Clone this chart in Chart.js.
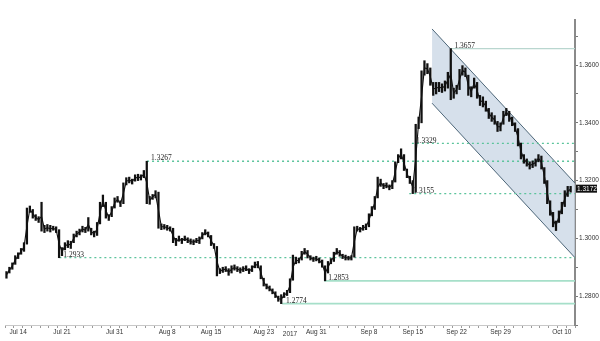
<!DOCTYPE html>
<html>
<head>
<meta charset="utf-8">
<script src="https://cdn.jsdelivr.net/npm/chart.js@4/dist/chart.umd.min.js"></script>
<style>
  html, body { margin: 0; padding: 0; background: #fff; }
  #wrap { width: 600px; height: 341px; }
</style>
</head>
<body>
<div id="wrap"><canvas id="fx-chart"></canvas></div>
<script>
// price bars, three per trading day (day 0 = Jul 13)
const lows = [
  1.2862,1.2880,1.2893,1.2910,1.2930,1.2945,1.2955,1.2980,1.3090,1.3070,
  1.3062,1.3055,1.3025,1.3020,1.3025,1.3022,1.3028,1.3020,1.2933,1.2940,
  1.2960,1.2968,1.2965,1.2985,1.3005,1.3012,1.3022,1.3020,1.3025,1.3012,
  1.3005,1.3010,1.3050,1.3110,1.3070,1.3062,1.3075,1.3105,1.3125,1.3110,
  1.3120,1.3185,1.3192,1.3188,1.3198,1.3200,1.3202,1.3210,1.3120,1.3118,
  1.3135,1.3140,1.3035,1.3030,1.3032,1.3028,1.3025,1.2985,1.2975,1.2990,
  1.2982,1.2992,1.2985,1.2980,1.2978,1.2985,1.2982,1.2998,1.3012,1.3005,
  1.2975,1.2965,1.2870,1.2878,1.2882,1.2885,1.2872,1.2880,1.2890,1.2885,
  1.2880,1.2885,1.2888,1.2878,1.2885,1.2898,1.2898,1.2860,1.2835,1.2825,
  1.2818,1.2808,1.2795,1.2782,1.2774,1.2795,1.2802,1.2812,1.2855,1.2912,
  1.2915,1.2925,1.2945,1.2932,1.2925,1.2920,1.2922,1.2915,1.2900,1.2853,
  1.2880,1.2912,1.2920,1.2945,1.2938,1.2930,1.2925,1.2925,1.2925,1.2935,
  1.3025,1.3022,1.3028,1.3030,1.3040,1.3078,1.3100,1.3140,1.3180,1.3172,
  1.3175,1.3168,1.3172,1.3195,1.3262,1.3275,1.3235,1.3210,1.3190,1.3155,
  1.3160,1.3380,1.3400,1.3565,1.3570,1.3530,1.3495,1.3500,1.3508,1.3505,
  1.3510,1.3520,1.3480,1.3485,1.3500,1.3515,1.3565,1.3560,1.3495,1.3490,
  1.3520,1.3485,1.3460,1.3455,1.3440,1.3415,1.3405,1.3395,1.3370,1.3372,
  1.3395,1.3425,1.3405,1.3390,1.3370,1.3320,1.3275,1.3260,1.3250,1.3240,
  1.3245,1.3250,1.3265,1.3240,1.3190,1.3120,1.3080,1.3040,1.3027,1.3055,
  1.3085,1.3110,1.3145,1.3160
];
const highs = [
  1.2885,1.2900,1.2915,1.2940,1.2950,1.2965,1.2985,1.3105,1.3112,1.3100,
  1.3082,1.3075,1.3125,1.3045,1.3048,1.3045,1.3042,1.3040,1.3030,1.2968,
  1.2985,1.2992,1.2990,1.3015,1.3025,1.3032,1.3042,1.3038,1.3072,1.3035,
  1.3025,1.3055,1.3125,1.3150,1.3125,1.3082,1.3110,1.3140,1.3145,1.3130,
  1.3192,1.3210,1.3212,1.3205,1.3220,1.3222,1.3220,1.3235,1.3267,1.3145,
  1.3152,1.3165,1.3160,1.3050,1.3048,1.3045,1.3040,1.3035,1.3000,1.3008,
  1.3000,1.3008,1.3002,1.2998,1.2995,1.3000,1.3005,1.3020,1.3030,1.3022,
  1.3010,1.2982,1.2972,1.2895,1.2900,1.2902,1.2895,1.2905,1.2908,1.2902,
  1.2898,1.2902,1.2905,1.2895,1.2905,1.2918,1.2920,1.2905,1.2862,1.2842,
  1.2835,1.2825,1.2815,1.2800,1.2805,1.2812,1.2820,1.2860,1.2942,1.2935,
  1.2932,1.2955,1.2965,1.2958,1.2940,1.2935,1.2938,1.2932,1.2925,1.2905,
  1.2920,1.2930,1.2952,1.2965,1.2958,1.2945,1.2942,1.2938,1.2940,1.3040,
  1.3042,1.3038,1.3045,1.3050,1.3085,1.3110,1.3145,1.3212,1.3205,1.3190,
  1.3192,1.3185,1.3200,1.3265,1.3290,1.3310,1.3290,1.3240,1.3215,1.3200,
  1.3395,1.3420,1.3580,1.3615,1.3605,1.3590,1.3540,1.3540,1.3540,1.3535,
  1.3545,1.3575,1.3657,1.3520,1.3530,1.3585,1.3598,1.3590,1.3565,1.3525,
  1.3555,1.3540,1.3495,1.3490,1.3475,1.3450,1.3435,1.3425,1.3405,1.3400,
  1.3440,1.3450,1.3440,1.3420,1.3400,1.3380,1.3330,1.3290,1.3275,1.3265,
  1.3268,1.3275,1.3290,1.3285,1.3245,1.3200,1.3130,1.3090,1.3060,1.3095,
  1.3125,1.3165,1.3180,1.3180
];
const firstSlot = -1 / 3;
const slotStep = 1 / 3;
const lastPrice = 1.3172;

// x axis labels (trading-day index)
const tickDays = [1, 6, 12, 18, 23, 29, 35, 41, 46, 51, 56, 63];
const tickLabels = ['Jul 14', 'Jul 21', 'Jul 31', 'Aug 8', 'Aug 15', 'Aug 23',
                    'Aug 31', 'Sep 8', 'Sep 15', 'Sep 22', 'Sep 29', 'Oct 10'];

// support / resistance levels and the day they start from
const dottedLevels = [1.3329, 1.3267, 1.3155, 1.2933];
const dottedFrom = [45.9, 15.7, 45.6, 5.7];
const solidLevels = [1.3657, 1.2853, 1.2774];
const solidFrom = [50.3, 35.9, 31.1];

// falling channel
const channelX = [48.2, 64.5];
const channelTop = [1.3725, 1.3191];
const channelBottom = [1.3468, 1.2933];

const xMin = -0.5, xMax = 64.5;

const priceData = lows.map((lo, i) => ({ x: firstSlot + i * slotStep, y: [lo, highs[i]] }));
// thin trace joining the middle of each bar so the scribble is continuous
const midData = lows.map((lo, i) => ({ x: firstSlot + i * slotStep, y: (lo + highs[i]) / 2 }));

const levelSets = [];
dottedLevels.forEach((v, i) => levelSets.push({
  type: 'line', order: 1,
  data: [{ x: dottedFrom[i], y: v }, { x: xMax, y: v }],
  borderColor: '#5cc49c', borderWidth: 1.3, borderDash: [2, 3],
  pointRadius: 0, fill: false
}));
solidLevels.forEach((v, i) => levelSets.push({
  type: 'line', order: 1,
  data: [{ x: solidFrom[i], y: v }, { x: xMax, y: v }],
  borderColor: i === 0 ? '#b9d6cf' : '#a6dfc9', borderWidth: i === 0 ? 1.2 : 1.8,
  pointRadius: 0, fill: false
}));

const levelLabels = {
  id: 'levelLabels',
  afterDatasetsDraw(chart) {
    const { ctx, scales: { x, y } } = chart;
    ctx.save();
    ctx.font = '7.5px "Liberation Serif"';
    ctx.fillStyle = '#222';
    ctx.textBaseline = 'bottom';
    ctx.textAlign = 'left';
    const all = dottedLevels.map((v, i) => [v, dottedFrom[i]])
      .concat(solidLevels.map((v, i) => [v, solidFrom[i]]));
    all.forEach(([v, from]) => {
      ctx.fillText(v.toFixed(4), x.getPixelForValue(from) + 4, y.getPixelForValue(v) + 1);
    });
    // last price box on the right axis
    const py = y.getPixelForValue(lastPrice);
    const bx = chart.chartArea.right + 1;
    ctx.fillStyle = '#111';
    ctx.fillRect(bx, py - 4, 21, 8);
    ctx.fillStyle = '#fff';
    ctx.font = '6.5px "Liberation Sans"';
    ctx.textBaseline = 'middle';
    ctx.fillText(lastPrice.toFixed(4), bx + 1, py + 0.5);
    ctx.restore();
  }
};

new Chart(document.getElementById('fx-chart').getContext('2d'), {
  type: 'bar',
  data: {
    datasets: [
      {
        type: 'line', order: 3,
        data: channelX.map((v, i) => ({ x: v, y: channelTop[i] })),
        borderColor: '#4d6678', borderWidth: 1, pointRadius: 0, fill: false
      },
      {
        type: 'line', order: 3,
        data: channelX.map((v, i) => ({ x: v, y: channelBottom[i] })),
        borderColor: '#4d6678', borderWidth: 1, pointRadius: 0,
        fill: '-1', backgroundColor: 'rgba(200,214,228,0.75)'
      },
      ...levelSets,
      {
        type: 'line', order: 0,
        data: midData,
        borderColor: '#111', borderWidth: 1.1, pointRadius: 0, fill: false
      },
      {
        type: 'bar', order: 0,
        data: priceData,
        backgroundColor: '#111',
        barThickness: 1.6
      }
    ]
  },
  options: {
    responsive: true,
    maintainAspectRatio: false,
    animation: false,
    layout: { padding: { left: 5, top: 20, right: 0, bottom: 0 } },
    plugins: { legend: { display: false }, tooltip: { enabled: false } },
    scales: {
      x: {
        type: 'linear', min: xMin, max: xMax, offset: false,
        afterBuildTicks: (s) => {
          s.ticks = [];
          for (let d = 0; d <= 64; d++) s.ticks.push({ value: d });
        },
        afterFit: (s) => { s.height = 16; },
        grid: { drawOnChartArea: false, color: '#9a9a9a', tickLength: 3 },
        border: { color: '#c8c8c8', width: 1 },
        ticks: {
          autoSkip: false, maxRotation: 0, padding: 0,
          color: '#333', font: { family: 'Liberation Sans', size: 6.5 },
          callback: (v) => { const k = tickDays.indexOf(v); return k >= 0 ? tickLabels[k] : ''; }
        },
        title: {
          display: true, text: '2017', color: '#333',
          font: { family: 'Liberation Sans', size: 6.5 }, padding: { top: 0, bottom: 3 }
        }
      },
      y: {
        position: 'right', min: 1.27, max: 1.3756,
        afterBuildTicks: (s) => {
          s.ticks = [];
          for (let k = 127; k <= 137; k++) s.ticks.push({ value: k / 100 });
        },
        afterFit: (s) => { s.width = 25; },
        grid: { drawOnChartArea: false, color: '#777', tickLength: 3 },
        border: { color: '#8a8a8a', width: 2 },
        ticks: {
          padding: 1, color: '#333', font: { family: 'Liberation Sans', size: 6.5 },
          callback: (v) => (Math.round(v * 100) % 2 === 0 ? v.toFixed(4) : '')
        }
      }
    }
  },
  plugins: [levelLabels]
});
</script>
</body>
</html>
